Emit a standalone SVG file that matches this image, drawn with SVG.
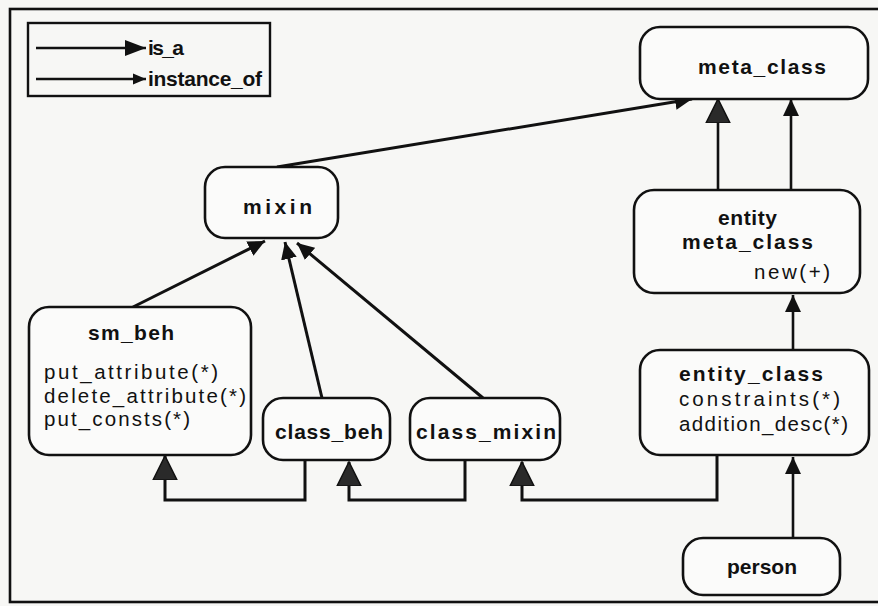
<svg xmlns="http://www.w3.org/2000/svg" width="878" height="606" viewBox="0 0 878 606">
  <style>
    .box { fill: #fbfbfa; stroke: #111; stroke-width: 2.6; }
    .t { font-family: "Liberation Sans", Arial, sans-serif; font-size: 21px; fill: #111; }
    .b { font-weight: bold; }
    .m { font-size: 20.5px; }
    .edge { fill: none; stroke: #111; stroke-width: 2.6; }
    .thick { stroke-width: 3; }
  </style>
  <defs>
    <!-- large head used for is_a -->
    <marker id="isa" markerUnits="userSpaceOnUse" markerWidth="26" markerHeight="26" refX="24" refY="12" orient="auto" viewBox="0 0 26 24">
      <path d="M0,0 L24,12 L0,24 Z" fill="#2a2a2a" stroke="#111" stroke-width="1.5"/>
    </marker>
    <!-- slim head used for instance_of -->
    <marker id="inst" markerUnits="userSpaceOnUse" markerWidth="18" markerHeight="18" refX="17" refY="8" orient="auto" viewBox="0 0 18 16">
      <path d="M0,0 L17,8 L0,16 Z" fill="#111"/>
    </marker>
    <!-- legend heads -->
    <marker id="isaKey" markerUnits="userSpaceOnUse" markerWidth="22" markerHeight="16" refX="21" refY="8" orient="auto" viewBox="0 0 22 16">
      <path d="M0,0 L21,8 L0,16 Z" fill="#111"/>
    </marker>
    <marker id="instKey" markerUnits="userSpaceOnUse" markerWidth="14" markerHeight="12" refX="13" refY="5.5" orient="auto" viewBox="0 0 14 11">
      <path d="M0,0 L13,5.5 L0,11 Z" fill="#111"/>
    </marker>
  </defs>

  <rect x="0" y="0" width="878" height="606" fill="#f7f7f5"/>
  <!-- outer frame -->
  <rect x="10" y="9" width="880" height="593" fill="none" stroke="#111" stroke-width="2.6"/>

  <!-- legend -->
  <g id="legend">
    <rect x="28" y="23" width="242" height="73" fill="none" stroke="#111" stroke-width="2.4"/>
    <line x1="36" y1="48" x2="146" y2="48" class="edge" stroke-width="4" marker-end="url(#isaKey)"/>
    <line x1="36" y1="79" x2="146" y2="79" class="edge" stroke-width="2" marker-end="url(#instKey)"/>
    <text x="148" y="55" class="t b" font-size="17" textLength="36">is_a</text>
    <text x="148" y="86" class="t b" font-size="17" textLength="114">instance_of</text>
  </g>

  <!-- connectors -->
  <g id="connectors">
    <line x1="277" y1="167" x2="692" y2="99" class="edge thick" marker-end="url(#inst)"/>
    <line x1="718" y1="190" x2="718" y2="99" class="edge" marker-end="url(#isa)"/>
    <line x1="791" y1="190" x2="791" y2="99" class="edge" marker-end="url(#inst)"/>
    <line x1="793" y1="350" x2="793" y2="295" class="edge" marker-end="url(#inst)"/>
    <line x1="793" y1="538" x2="793" y2="457" class="edge" marker-end="url(#inst)"/>
    <line x1="133" y1="307" x2="265" y2="241" class="edge thick" marker-end="url(#inst)"/>
    <line x1="322" y1="398" x2="285" y2="242" class="edge thick" marker-end="url(#inst)"/>
    <line x1="483" y1="398" x2="297" y2="243" class="edge thick" marker-end="url(#inst)"/>
    <polyline points="305,460 305,500 165,500 165,456" class="edge thick" marker-end="url(#isa)"/>
    <polyline points="465,460 465,500 349,500 349,462" class="edge thick" marker-end="url(#isa)"/>
    <polyline points="717,455 717,500 522,500 522,462" class="edge thick" marker-end="url(#isa)"/>
  </g>

  <g id="meta_class">
    <rect x="640" y="27" width="228" height="72" rx="20" class="box"/>
    <text x="698" y="74" class="t b" textLength="128">meta_class</text>
  </g>

  <g id="mixin">
    <rect x="205" y="167" width="133" height="71" rx="20" class="box"/>
    <text x="243" y="214" class="t b" textLength="69">mixin</text>
  </g>

  <g id="entity_meta_class">
    <rect x="634" y="190" width="226" height="103" rx="20" class="box"/>
    <text x="718" y="225" class="t b" textLength="59">entity</text>
    <text x="682" y="249" class="t b" textLength="131">meta_class</text>
    <text x="754" y="279" class="t m" textLength="76">new(+)</text>
  </g>

  <g id="sm_beh">
    <rect x="29" y="307" width="222" height="148" rx="20" class="box"/>
    <text x="88" y="340" class="t b" textLength="86">sm_beh</text>
    <text x="44" y="379" class="t m" textLength="174">put_attribute(*)</text>
    <text x="44" y="403" class="t m" textLength="202">delete_attribute(*)</text>
    <text x="44" y="426" class="t m" textLength="146">put_consts(*)</text>
  </g>

  <g id="class_beh">
    <rect x="263" y="398" width="127" height="62" rx="20" class="box"/>
    <text x="275" y="439" class="t b" textLength="108">class_beh</text>
  </g>

  <g id="class_mixin">
    <rect x="410" y="398" width="150" height="62" rx="20" class="box"/>
    <text x="416" y="439" class="t b" textLength="140">class_mixin</text>
  </g>

  <g id="entity_class">
    <rect x="640" y="350" width="229" height="105" rx="20" class="box"/>
    <text x="679" y="381" class="t b" textLength="144">entity_class</text>
    <text x="679" y="406" class="t m" textLength="161">constraints(*)</text>
    <text x="679" y="431" class="t m" textLength="169">addition_desc(*)</text>
  </g>

  <g id="person">
    <rect x="683" y="538" width="157" height="57" rx="20" class="box"/>
    <text x="727" y="574" class="t b" textLength="70">person</text>
  </g>
</svg>
